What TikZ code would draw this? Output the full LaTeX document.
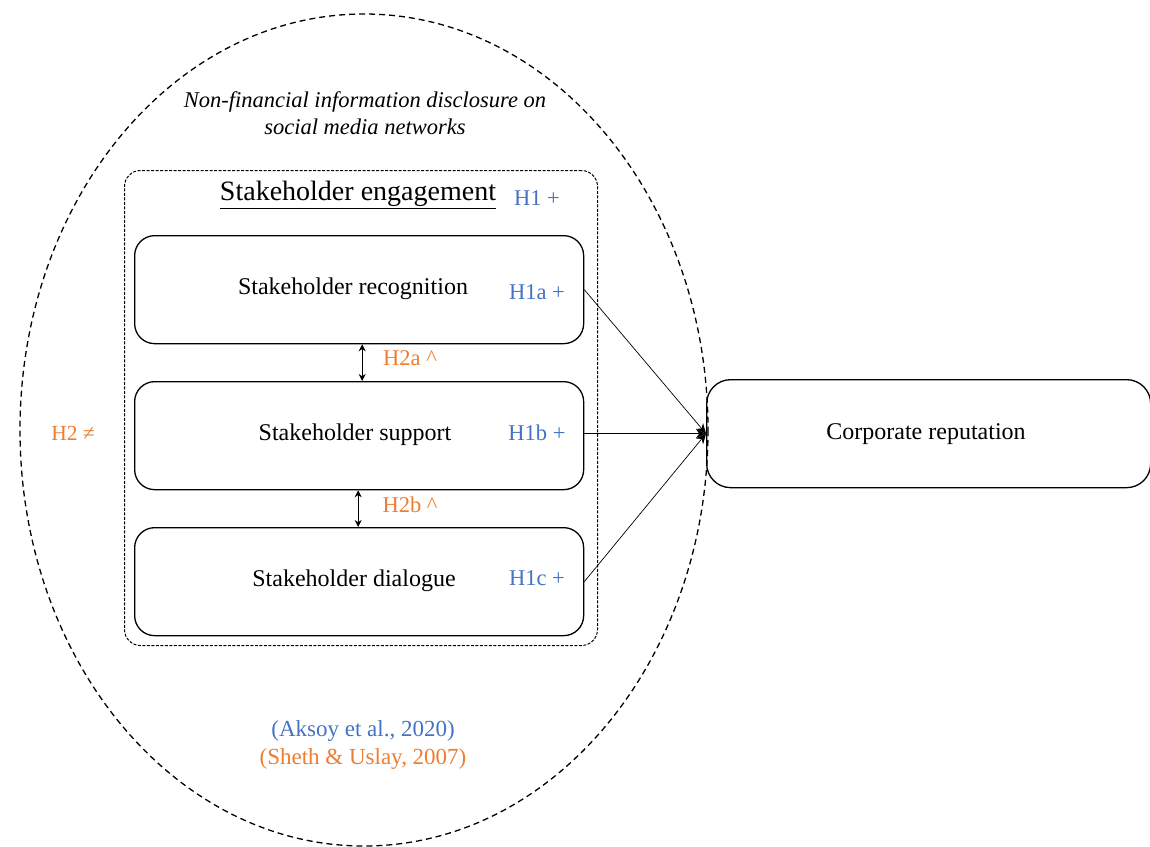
\documentclass[tikz,border=0pt]{standalone}
\usepackage{fontspec}
\setmainfont{Liberation Serif}
\usetikzlibrary{arrows.meta}
\definecolor{hblue}{HTML}{4472C4}
\definecolor{horange}{HTML}{ED7D31}
\tikzset{
  boxx/.style={draw, line width=1.3pt, rounded corners=20pt, minimum width=449pt, minimum height=108pt, anchor=north west, inner sep=0pt},
  lbl/.style={font=\fontsize{24}{28}\selectfont, inner sep=0pt},
  hb/.style={text=hblue, font=\fontsize{22.5}{26}\selectfont, inner sep=0pt},
  ho/.style={text=horange, font=\fontsize{22.5}{26}\selectfont, inner sep=0pt},
  arr/.style={line width=0.7pt, -{Stealth[length=10pt,width=9pt]}},
  dbl/.style={line width=0.8pt, {Stealth[length=7pt,width=7pt]}-{Stealth[length=7pt,width=7pt]}},
}
\begin{document}
\begin{tikzpicture}[x=1pt,y=-1pt]
\useasboundingbox (0,0) rectangle (1150,846);
% outer ellipse
\draw[line width=1.3pt, dash pattern=on 6pt off 4pt] (364,430) ellipse [x radius=344, y radius=416];
% engagement dashed box
\node[draw, line width=1pt, dash pattern=on 3pt off 1.5pt, rounded corners=16pt, minimum width=473pt, minimum height=475pt, anchor=north west, inner sep=0pt] (eng) at (124,170) {};
% boxes
\node[boxx] (rec) at (134,235) {};
\node[boxx] (sup) at (134,381) {};
\node[boxx] (dia) at (134,527) {};
\node[boxx, minimum width=444pt, rounded corners=24pt] (rep) at (706,379) {};
% texts
\node[font=\itshape\fontsize{22.5}{27}\selectfont, align=center, inner sep=0pt] (nf) at (365,113) {Non-financial information disclosure on\\social media networks};
\node[font=\fontsize{28}{32}\selectfont, inner sep=0pt] (se) at (358,195) {\underline{Stakeholder engagement}};
\node[hb] (h1) at (537,198) {H1 +};
\node[lbl] (trec) at (353,289) {Stakeholder recognition};
\node[hb] (h1a) at (537,292) {H1a +};
\node[lbl] (tsup) at (355,435) {Stakeholder support};
\node[hb] (h1b) at (537,433) {H1b +};
\node[lbl] (tdia) at (354,581) {Stakeholder dialogue};
\node[hb] (h1c) at (537,578) {H1c +};
\node[lbl] (trep) at (926,434) {Corporate reputation};
\node[ho] (h2a) at (410,358) {H2a \textasciicircum};
\node[ho] (h2b) at (410,505) {H2b \textasciicircum};
\node[ho, font=\fontsize{21.5}{25}\selectfont] (h2) at (73,433) {H2 ≠};
\node[hb, font=\fontsize{23}{27}\selectfont] (ak) at (363,731) {(Aksoy et al., 2020)};
\node[ho, font=\fontsize{23}{27}\selectfont] (sh) at (363,759) {(Sheth \& Uslay, 2007)};
% connectors
\draw[arr] (rec.east) -- (rep.west);
\draw[arr] (sup.east |- rep.west) -- (rep.west);
\draw[arr] (dia.east) -- (rep.west);
\draw[dbl] ([xshift=3pt]rec.south) -- ([xshift=3pt]sup.north);
\draw[dbl] ([xshift=-1pt]sup.south) -- ([xshift=-1pt]dia.north);
\end{tikzpicture}
\end{document}
